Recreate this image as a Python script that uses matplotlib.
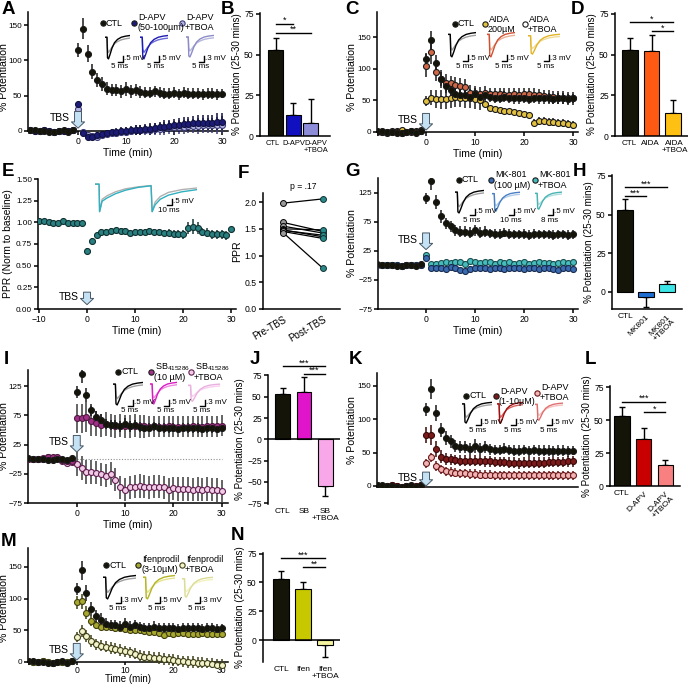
import matplotlib

matplotlib.use("Agg")
import matplotlib.pyplot as plt  # noqa: E402
from matplotlib.lines import Line2D  # noqa: E402

W, H = 688, 684

plt.rcParams["font.family"] = ["Liberation Sans", "DejaVu Sans"]
plt.rcParams["font.size"] = 7
plt.rcParams["axes.linewidth"] = 1.1
for _a in ("xtick", "ytick"):
    plt.rcParams[f"{_a}.major.width"] = 1.1
    plt.rcParams[f"{_a}.major.size"] = 3
    plt.rcParams[f"{_a}.labelsize"] = 6.2
    plt.rcParams[f"{_a}.major.pad"] = 1.5

# ---------------------------------------------------------------- data
BASE_T = list(range(-10, 0))
POST_T = list(range(0, 31))

CTL_BASE = [2, 1, 0, 0, -1, -1, 0, 1, -1, 2]
CTL_POST = [115, 145, 109, 84, 72, 67, 60, 58, 58, 56, 60, 56, 58, 55, 54, 54,
            56, 54, 53, 53, 54, 52, 54, 53, 53, 53, 52, 53, 53, 52, 53]
CTL_ERR = [10, 15, 12, 11, 10, 10, 9, 9, 9, 9, 10, 9, 9, 8, 8, 8,
           8, 8, 8, 8, 8, 8, 8, 8, 8, 8, 8, 8, 8, 8, 7]

# A: D-APV 50-100 uM
ZERO_BASE = [1, 0, 0, 1, 0, -1, 0, 0, 0, 1]
DAPV_POST = [38, -3, -8, -9, -6, -4, -3, -2, -1, 0, 0, 1, 2, 2, 3, 3,
             4, 5, 6, 7, 8, 9, 10, 10, 11, 11, 12, 12, 12, 13, 13]
DAPV_ERR = [3, 3, 4, 4, 4, 4, 4, 5, 5, 5, 6, 6, 7, 7, 7, 8,
            8, 8, 9, 9, 9, 10, 10, 10, 10, 11, 11, 11, 11, 12, 12]
DAPV_TBOA_POST = [31, -2, -5, -7, -8, -5, -4, -3, -3, -2, -1, 0, 1, 1, 2, 2,
                  3, 3, 4, 5, 5, 6, 6, 7, 7, 7, 8, 8, 8, 8, 9]

# C: AIDA
AIDA_BASE = [0, 0, -1, 0, 1, 3, 0, 1, 2, 3]
AIDA_POST = [105, 127, 95, 84, 78, 77, 75, 73, 71, 62, 61, 60, 61, 60, 60, 60,
             59, 59, 60, 59, 60, 60, 59, 58, 57, 56, 55, 54, 54, 53, 53]
AIDA_ERR = [18, 20, 15, 14, 13, 12, 12, 12, 12, 12, 11, 11, 11, 10, 10, 10,
            10, 10, 10, 10, 10, 10, 10, 10, 10, 10, 10, 10, 10, 10, 10]
AIDA_TBOA_POST = [49, 54, 52, 52, 52, 53, 55, 54, 53, 53, 52, 50, 44, 38, 36, 34,
                  33, 33, 32, 30, 29, 27, 15, 17, 17, 16, 16, 15, 14, 13, 11]
AIDA_TBOA_ERR = [8, 12, 14, 15, 15, 15, 15, 15, 15, 15, 15, 15, 3, 2, 2, 2,
                 2, 2, 2, 2, 2, 2, 6, 6, 6, 6, 6, 6, 6, 6, 6]

# E: paired-pulse ratio
PPR_BASE = [1.02, 1.01, 1.00, 0.99, 0.99, 1.01, 0.99, 0.99, 0.99, 0.99]
PPR_POST = [0.67, 0.79, 0.85, 0.89, 0.89, 0.90, 0.91, 0.90, 0.90, 0.88, 0.89,
            0.89, 0.89, 0.90, 0.89, 0.89, 0.88, 0.88, 0.87, 0.87, 0.86, 0.93,
            0.95, 0.93, 0.89, 0.88, 0.86, 0.86, 0.86, 0.85, 0.92]
PPR_ERR = [0.03] * 17 + [0.04, 0.04, 0.04, 0.05, 0.07, 0.09, 0.07,
                         0.05, 0.05, 0.05, 0.05, 0.05, 0.05, 0.02]

# F: PPR pre / post
PPR_PRE = [1.98, 1.62, 1.55, 1.50, 1.48, 1.47, 1.45, 1.43]
PPR_POSTTBS = [2.06, 1.45, 1.42, 1.48, 1.35, 1.38, 1.32, 0.76]

# G: MK-801
MK_POST = [12, -5, -4, -4, -6, -3, -5, -8, -10, -6, -4, -5, -5, -7, -5, -4,
           -6, -5, -5, -4, -6, -5, -4, -6, -4, -5, -6, -8, -5, -4, -6]
MK_TBOA_POST = [17, 2, 3, 4, 5, 4, 6, 5, 3, 7, 6, 4, 5, 6, 3, 5,
                4, 5, 3, 4, 5, 3, 4, 5, 4, 4, 3, 4, 5, 4, 5]
MK_ERR = [4] * 31

# I: SB415286
SB_BASE = [0, 0, 0, 1, 4, 3, 3, -2, -4, -4]
SB_POST = [70, 70, 72, 65, 61, 58, 60, 58, 56, 57, 56, 56, 57, 56, 56, 55,
           56, 55, 55, 56, 55, 55, 55, 55, 56, 55, 55, 56, 56, 56, 57]
SB_ERR = [25, 25, 25, 25, 22, 20, 20, 20, 20, 20, 20, 20, 20, 20, 20, 18,
          18, 18, 18, 18, 18, 18, 18, 18, 18, 18, 18, 18, 18, 18, 18]
SB_TBOA_BASE = [0, 0, 0, 2, 3, 2, 2, -3, -6, -5]
SB_TBOA_POST = [-8, -15, -22, -22, -23, -26, -28, -25, -35, -48, -52, -48, -47,
                -46, -47, -48, -47, -47, -48, -53, -50, -51, -51, -51, -52, -51,
                -52, -51, -52, -53, -55]
SB_TBOA_ERR = [20] * 31

# K: D-APV 1-10 uM
KDAPV_POST = [77, 76, 56, 44, 40, 40, 39, 38, 38, 38, 38, 38, 37, 37, 36, 36,
              36, 35, 35, 34, 35, 35, 35, 35, 35, 36, 36, 36, 36, 37, 37]
KDAPV_ERR = [12, 15, 12, 10, 9, 8, 8, 8, 8, 8, 8, 8, 8, 8, 8, 8,
             8, 8, 8, 8, 8, 8, 8, 8, 8, 8, 8, 8, 8, 8, 8]
KDAPV_TBOA_POST = [34, 43, 30, 25, 22, 21, 20, 19, 19, 18, 18, 17, 17, 17, 16, 16,
                   16, 16, 16, 16, 16, 16, 16, 16, 16, 16, 16, 16, 16, 16, 16]
KDAPV_TBOA_ERR = [7] * 31

# M: ifenprodil
IFEN_POST = [94, 96, 78, 65, 58, 56, 56, 55, 54, 53, 52, 51, 51, 50, 49, 48,
             47, 46, 42, 45, 44, 45, 45, 44, 44, 44, 45, 44, 44, 44, 44]
IFEN_ERR = [10, 12, 10, 8, 6, 6, 6, 6, 6, 6, 6, 6, 6, 6, 6, 6,
            6, 6, 6, 6, 6, 6, 6, 6, 6, 6, 6, 6, 6, 6, 6]
IFEN_TBOA_POST = [40, 49, 41, 33, 28, 26, 24, 22, 21, 19, 17, 15, 13, 10, 8, 8,
                  7, 6, 5, 4, 3, 2, 1, 0, 0, -1, -1, -2, -3, -4, -5]
IFEN_TBOA_ERR = [8, 9, 9, 9, 9, 9, 9, 9, 9, 9, 9, 9, 9, 9, 9, 9,
                 9, 9, 9, 9, 9, 9, 9, 9, 9, 9, 9, 9, 9, 9, 9]

# bar summaries (25-30 min)
B_MEAN, B_ERR = [53, 13, 8], [7, 7, 15]
D_MEAN, D_ERR = [53, 52, 14], [7, 10, 8]
H_MEAN, H_ERR = [53, -3, 5], [7, 7, 2]
J_MEAN, J_ERR = [53, 55, -55], [7, 18, 12]
L_MEAN, L_ERR = [53, 36, 16], [7, 8, 4]
N_MEAN, N_ERR = [53, 44, -4], [7, 6, 11]

# schematic fEPSP traces used in the insets
TRACE_X = [0.0, 0.08, 0.1, 0.14, 0.2, 0.28, 0.38, 0.5, 0.65, 0.82, 1.0]
TRACE_PRE = [0.0, 0.0, -0.55, -0.7, -0.6, -0.45, -0.3, -0.2, -0.12, -0.07, -0.04]
TRACE_POST = [0.0, 0.0, -0.95, -1.0, -0.8, -0.5, -0.25, -0.1, 0.0, 0.05, 0.08]
PAIRED_X = [0.0, 0.04, 0.045, 0.07, 0.12, 0.2, 0.3, 0.42, 0.55, 0.56, 0.59,
            0.64, 0.72, 0.85, 1.0]
PAIRED_PRE = [0.0, 0.0, -1.0, -0.55, -0.42, -0.28, -0.17, -0.1, -0.05, -1.0,
              -0.65, -0.45, -0.3, -0.2, -0.14]
PAIRED_POST = [0.0, 0.0, -1.0, -0.62, -0.5, -0.35, -0.22, -0.12, -0.06, -1.0,
               -0.75, -0.55, -0.4, -0.28, -0.2]

BLACK = "#141408"
EDGE = "#1a1a1a"
LEG_FS = 6.5
SCALE_FS = 5.8
YLAB_FS = 7.6


# ---------------------------------------------------------------- helpers
def rect(x0, y0, x1, y1):
    return [x0 / W, 1 - y1 / H, (x1 - x0) / W, (y1 - y0) / H]


def ftext(fig, x, y, s, **kw):
    fig.text(x / W, 1 - y / H, s, **kw)


def fline(fig, xs, ys, **kw):
    fig.add_artist(Line2D([x / W for x in xs], [1 - y / H for y in ys],
                          transform=fig.transFigure, **kw))


def series(ax, base, post, err, face, edge=EDGE, ecolor=None, base_err=1.5):
    ax.errorbar(BASE_T + POST_T, base + post, yerr=[base_err] * len(base) + err,
                fmt="o", ms=4.3, mfc=face, mec=edge, mew=0.8,
                ecolor=ecolor or edge, elinewidth=1.1, capsize=0, zorder=3)


def time_axes(fig, r, xlim, ylim, yticks, ylabel, xticks=(0, 10, 20, 30),
              zero_spine=False, xlabel=True, label_x=None):
    ax = fig.add_axes(rect(*r))
    ax.set_xlim(xlim)
    ax.set_ylim(ylim)
    ax.spines[["top", "right"]].set_visible(False)
    if zero_spine:
        ax.spines["bottom"].set_position(("data", 0))
        ax.spines["left"].set_bounds(0, ylim[1])
    ax.set_yticks(yticks)
    ax.set_xticks(list(xticks))
    ax.tick_params(axis="y", labelsize=5.9, pad=1.2)
    if xlabel:
        ax.set_xlabel("Time (min)", fontsize=7.5, labelpad=1)
    ax.set_ylabel(ylabel, fontsize=YLAB_FS, labelpad=1.5)
    if label_x is not None:
        # label_x is the pixel position of the label's right edge
        ax.yaxis.set_label_coords((label_x - r[0]) / (r[2] - r[0]), 0.5)
    return ax


def tbs(ax, y_tip, length=12):
    ax.annotate("", xy=(0, y_tip), xytext=(0, length), textcoords="offset points",
                arrowprops=dict(arrowstyle="simple,head_length=0.45,head_width=0.95,"
                                           "tail_width=0.5",
                                fc="#c4e2f4", ec="#4a5866", lw=0.7,
                                mutation_scale=10, shrinkA=0, shrinkB=0),
                zorder=5)
    ax.annotate("TBS", xy=(0, y_tip), xytext=(-6, length * 0.6),
                textcoords="offset points", ha="right", va="center", fontsize=7.5)


def legend_item(fig, x, y, face, lines, edge=EDGE):
    fig.add_artist(Line2D([x / W], [1 - y / H], marker="o", ms=3.8, mfc=face,
                          mec=edge, mew=0.8, transform=fig.transFigure))
    if len(lines) == 1:
        ftext(fig, x + 3, y, lines[0], va="center", fontsize=LEG_FS)
    else:
        ftext(fig, x + 4, y - 5, lines[0], va="center", fontsize=LEG_FS)
        ftext(fig, x + 3, y + 5, lines[1], va="center", fontsize=LEG_FS)


def trace(fig, r, pre_color, post_color, xs=TRACE_X, pre=TRACE_PRE, post=TRACE_POST):
    ax = fig.add_axes(rect(*r))
    ax.plot(xs, pre, color=pre_color, lw=1.0)
    ax.plot(xs, post, color=post_color, lw=1.0)
    ax.set_xlim(0, 1)
    ax.set_ylim(-1.05, 0.15)
    ax.axis("off")


def scalebar(fig, x, y, vlab, hlab="5 ms"):
    fline(fig, [x - 5, x, x], [y, y, y - 6], color="black", lw=1.0)
    ftext(fig, x + 1, y - 3, vlab, va="center", fontsize=SCALE_FS)
    ftext(fig, x - 3, y + 5, hlab, ha="center", va="center", fontsize=SCALE_FS)


def bar_panel(fig, r, xlim, ylim, yticks, labels, means, errs, colors, width,
              sigs, rotate=False, zero_line=False, label_fs=6.0, label_pos=None):
    ax = fig.add_axes(rect(*r))
    xs = list(range(len(means)))
    ax.bar(xs, means, width=width, color=colors, edgecolor="black", lw=0.8, zorder=2)
    for xi, m, e in zip(xs, means, errs):
        yerr = [[0], [e]] if m >= 0 else [[e], [0]]
        ax.errorbar([xi], [m], yerr=yerr, fmt="none", ecolor="black",
                    elinewidth=1.0, capsize=2.5, capthick=1.0, zorder=1)
    ax.set_xlim(xlim)
    ax.set_ylim(ylim)
    ax.set_yticks(yticks)
    ax.spines[["top", "right"]].set_visible(False)
    if zero_line:
        ax.spines["bottom"].set_visible(False)
        ax.axhline(0, color="black", lw=1.1)
    ax.set_xticks(label_pos if label_pos is not None else xs)
    ax.set_xticklabels(labels, fontsize=label_fs, linespacing=1.0)
    ax.tick_params(axis="x", length=0, pad=3)
    if rotate:
        for lbl in ax.get_xticklabels()[1:]:
            lbl.set_rotation(45)
            lbl.set_ha("right")
            lbl.set_va("top")
            lbl.set_rotation_mode("anchor")
    ax.set_ylabel("% Potentiation (25-30 mins)", fontsize=7.1, labelpad=1.5)
    for x0, x1, y, s in sigs:
        ax.plot([x0, x1], [y, y], color="black", lw=1.0, clip_on=False)
        ax.text((x0 + x1) / 2, y - 1, s, ha="center", va="bottom", fontsize=6.5,
                clip_on=False)
    return ax


# ---------------------------------------------------------------- figure
fig = plt.figure(figsize=(W / 100, H / 100), dpi=100)

# A
ax = time_axes(fig, (28, 12, 228, 142), (-10.42, 31.25), (-15.6, 168.4),
               [0, 50, 100, 150], "% Potentiation", zero_spine=True, label_x=9)
series(ax, ZERO_BASE, DAPV_TBOA_POST, DAPV_ERR, "#b4b4e2", "#3c3c78")
series(ax, ZERO_BASE, DAPV_POST, DAPV_ERR, "#1c1c78", "#101040")
series(ax, CTL_BASE, CTL_POST, CTL_ERR, BLACK)
tbs(ax, 4)
legend_item(fig, 103, 23, BLACK, ["CTL"])
legend_item(fig, 134, 23, "#1c1c78", ["D-APV", "(50-100µm)"])
legend_item(fig, 182, 23, "#b4b4e2", ["D-APV", "+TBOA"], edge="#3c3c78")
trace(fig, (105, 34, 130, 60), "#a0a0a0", "black")
trace(fig, (140, 34, 168, 60), "#6a6ad8", "#1c1cb4")
trace(fig, (186, 34, 214, 58), "#b8b8dc", "#8c8cc8")
scalebar(fig, 123, 62, ".5 mV")
scalebar(fig, 159, 62, ".5 mV")
scalebar(fig, 204, 62, ".3 mV")

# B
bar_panel(fig, (260, 13, 330, 136), (-0.91, 3.09), (0, 75.5), [0, 25, 50, 75],
          ["CTL", "D-APV", "D-APV\n+TBOA"], B_MEAN, B_ERR,
          [BLACK, "#1010c0", "#8c8cd8"], 0.86,
          [(0, 1, 69, "*"), (0, 2, 63.5, "**")], label_fs=5.4,
          label_pos=[-0.2, 1.0, 2.3])

# C
ax = time_axes(fig, (377, 12, 578, 142), (-10, 31), (-15.8, 189.6),
               [0, 50, 100, 150], "% Potentiation", zero_spine=True, label_x=357)
series(ax, AIDA_BASE, AIDA_TBOA_POST, AIDA_TBOA_ERR, "#e2c040")
series(ax, ZERO_BASE, AIDA_POST, AIDA_ERR, "#d06848")
series(ax, CTL_BASE, CTL_POST, CTL_ERR, BLACK)
tbs(ax, 3)
legend_item(fig, 455, 24, BLACK, ["CTL"])
legend_item(fig, 485, 24, "#e2c040", ["AIDA", "200µM"])
legend_item(fig, 525, 24, "white", ["AIDA", "+TBOA"])
trace(fig, (448, 31, 476, 58), "#a0a0a0", "black")
trace(fig, (487, 31, 515, 58), "#eab098", "#d05030")
trace(fig, (528, 33, 560, 55), "#f0dc98", "#e2b428")
scalebar(fig, 468, 61, ".5 mV")
scalebar(fig, 507, 61, ".5 mV")
scalebar(fig, 549, 61, ".3 mV")

# D
bar_panel(fig, (615, 13, 688, 136), (-0.71, 2.71), (0, 75.5), [0, 25, 50, 75],
          ["CTL", "AIDA", "AIDA\n+TBOA"], D_MEAN, D_ERR,
          [BLACK, "#ff5a14", "#ffc014"], 0.72,
          [(0, 2, 70, "*"), (1, 2, 64.5, "*")], label_fs=5.8,
          label_pos=[-0.05, 0.95, 2.08])

# E
ax = time_axes(fig, (38, 179, 236, 309), (-10.2, 31), (0, 1.5),
               [0, 0.25, 0.5, 0.75, 1.0, 1.25, 1.5], "PPR (Norm to baseline)",
               xticks=(-10, 0, 10, 20, 30), label_x=13)
ax.set_yticklabels(["0.00", "0.25", "0.50", "0.75", "1.00", "1.25", "1.50"])
ax.yaxis.label.set_fontsize(7.4)
ax.errorbar(BASE_T + POST_T, PPR_BASE + PPR_POST,
            yerr=[0.01] * len(PPR_BASE) + PPR_ERR, fmt="o", ms=4.3,
            mfc="#2a8080", mec="#103030", mew=0.8, ecolor="#1a3a3a",
            elinewidth=1.1, capsize=0, zorder=3)
tbs(ax, 0.05, length=9)
trace(fig, (95, 180, 197, 213), "#b0b0b0", "#30b0c0",
      PAIRED_X, PAIRED_PRE, PAIRED_POST)
scalebar(fig, 172, 205, ".5 mV", "10 ms")

# F
ax = fig.add_axes(rect(263, 193, 340, 309))
for a, b in zip(PPR_PRE, PPR_POSTTBS):
    ax.plot([0, 1], [a, b], color="black", lw=0.9, zorder=2)
ax.scatter([0] * len(PPR_PRE), PPR_PRE, s=18, c="#9a9a9a", edgecolors="black",
           linewidths=0.7, zorder=3)
ax.scatter([1] * len(PPR_POSTTBS), PPR_POSTTBS, s=18, c="#2a8a8a",
           edgecolors="#103030", linewidths=0.7, zorder=3)
ax.set_xlim(-0.5, 1.425)
ax.set_ylim(0, 2.17)
ax.set_yticks([0, 0.5, 1.0, 1.5, 2.0])
ax.set_yticklabels(["0.0", "0.5", "1.0", "1.5", "2.0"])
ax.set_xticks([0, 1])
ax.set_xticklabels(["Pre-TBS", "Post-TBS"], rotation=30, ha="right",
                   rotation_mode="anchor", fontsize=7)
ax.tick_params(axis="x", length=0, pad=4)
ax.spines[["top", "right"]].set_visible(False)
ax.set_ylabel("PPR", fontsize=YLAB_FS, labelpad=1.5)
ax.text(0.5, 2.2, "p = .17", ha="center", va="bottom", fontsize=6.2)

# G
ax = time_axes(fig, (378, 178, 578, 309), (-9.8, 31), (-75, 150),
               [-75, -25, 25, 75, 125], "% Potentiation", label_x=357)
series(ax, ZERO_BASE, MK_TBOA_POST, MK_ERR, "#46bcbc", "#1c5050")
series(ax, ZERO_BASE, MK_POST, MK_ERR, "#3a6ab0", "#182c50")
series(ax, CTL_BASE, CTL_POST, CTL_ERR, BLACK)
tbs(ax, 27)
legend_item(fig, 459, 180, BLACK, ["CTL"])
legend_item(fig, 491, 180, "#3a6ab0", ["MK-801", "(100 µM)"])
legend_item(fig, 535, 180, "#46bcbc", ["MK-801", "+TBOA"])
trace(fig, (455, 189, 484, 214), "#a0a0a0", "black")
trace(fig, (492, 191, 520, 212), "#b4cce8", "#4a80c4")
trace(fig, (535, 191, 562, 210), "#b0dede", "#48b4b4")
scalebar(fig, 475, 215, ".5 mV")
scalebar(fig, 514, 215, ".5 mV", "10 ms")
scalebar(fig, 553, 215, ".5 mV", "8 ms")

# H
bar_panel(fig, (612, 175, 682, 309), (-0.62, 2.71), (-11, 75.6), [0, 25, 50, 75],
          ["CTL", "MK801", "MK801\n+TBOA"], H_MEAN, H_ERR,
          [BLACK, "#1e6ed2", "#3ce6e6"], 0.8,
          [(0, 2, 68, "***"), (0, 1, 62, "***")], rotate=True)

# I
ax = time_axes(fig, (28, 370, 228, 503), (-10.1, 31.3), (-75, 152.4),
               [-75, -25, 25, 75, 125], "% Potentiation", label_x=9)
ax.plot([0, 30], [0, 0], color="#909090", lw=0.8, ls=(0, (1, 1.5)), zorder=1)
series(ax, SB_TBOA_BASE, SB_TBOA_POST, SB_TBOA_ERR, "#f2cce6", "#602050",
       ecolor="#3a3a3a")
series(ax, SB_BASE, SB_POST, SB_ERR, "#a03088", "#501840", ecolor="#3a3a3a")
series(ax, CTL_BASE, CTL_POST, CTL_ERR, BLACK)
tbs(ax, 12)
legend_item(fig, 118, 372, BLACK, ["CTL"])
legend_item(fig, 151, 372, "#a03088", ["SB$_{\\mathregular{415286}}$", "(10 µM)"])
legend_item(fig, 191, 372, "#f2cce6", ["SB$_{\\mathregular{415286}}$", "+TBOA"],
            edge="#602050")
trace(fig, (113, 381, 143, 406), "#a0a0a0", "black")
trace(fig, (150, 381, 177, 405), "#ee88e0", "#d81cc4")
trace(fig, (188, 383, 220, 402), "#f8d0f0", "#eab0e0")
scalebar(fig, 133, 406, ".5 mV")
scalebar(fig, 169, 406, ".5 mV")
scalebar(fig, 205, 406, ".3 mV")

# J
bar_panel(fig, (268, 375, 340, 504), (-0.71, 2.71), (-76, 75.5),
          [-75, -50, -25, 0, 25, 50, 75], ["CTL", "SB", "SB\n+TBOA"],
          J_MEAN, J_ERR, [BLACK, "#e014c8", "#f8a8e8"], 0.71,
          [(0, 2, 85.5, "***"), (1, 2, 76.5, "***")], zero_line=True)

# K
ax = time_axes(fig, (377, 373, 578, 487), (-10, 31), (-1.5, 169.4),
               [0, 50, 100, 150], "% Potentiation", xticks=(), xlabel=False,
               label_x=357)
series(ax, ZERO_BASE, KDAPV_TBOA_POST, KDAPV_TBOA_ERR, "#f2b4b4", "#6a1818")
series(ax, ZERO_BASE, KDAPV_POST, KDAPV_ERR, "#7a1a1a", "#3a0808")
series(ax, CTL_BASE, CTL_POST, CTL_ERR, BLACK)
tbs(ax, 0, length=10)
legend_item(fig, 466, 396, BLACK, ["CTL"])
legend_item(fig, 496, 396, "#7a1a1a", ["D-APV", "(1-10µM)"])
legend_item(fig, 537, 393, "#f2b4b4", ["D-APV", "+TBOA"], edge="#6a1818")
trace(fig, (462, 401, 492, 424), "#a0a0a0", "black")
trace(fig, (497, 401, 523, 424), "#d86060", "#a01010")
trace(fig, (535, 402, 563, 421), "#f8c0c0", "#e07070")
scalebar(fig, 481, 425, ".5 mV")
scalebar(fig, 516, 425, ".5 mV")
scalebar(fig, 552, 425, ".5 mV")

# L
bar_panel(fig, (610, 386, 680, 486), (-0.55, 2.67), (0, 75.8), [0, 25, 50, 75],
          ["CTL", "D-APV", "D-APV\n+TBOA"], L_MEAN, L_ERR,
          [BLACK, "#c80000", "#f88080"], 0.7,
          [(0, 2, 64, "***"), (1, 2, 56, "*")], rotate=True)

# M
ax = time_axes(fig, (28, 548, 228, 668), (-10.1, 31.3), (-9.5, 180),
               [0, 50, 100, 150], "% Potentiation", zero_spine=True, label_x=9)
ax.tick_params(axis="x", length=2, pad=1)
ax.xaxis.label.set_fontsize(7)
ax.xaxis.set_label_coords(0.5, -0.05)
series(ax, ZERO_BASE, IFEN_TBOA_POST, IFEN_TBOA_ERR, "#f4f4cc", "#404018")
series(ax, ZERO_BASE, IFEN_POST, IFEN_ERR, "#a8a830", "#404010")
series(ax, CTL_BASE, CTL_POST, CTL_ERR, BLACK)
tbs(ax, 3)
legend_item(fig, 106, 565, BLACK, ["CTL"])
legend_item(fig, 138, 565, "#a8a830", ["Ifenprodil", "(3-10µM)"])
legend_item(fig, 182, 565, "#f4f4cc", ["Ifenprodil", "+TBOA"], edge="#404018")
trace(fig, (103, 574, 136, 600), "#a0a0a0", "black")
trace(fig, (143, 574, 175, 600), "#e4e490", "#b4b424")
trace(fig, (182, 576, 213, 598), "#f2f2c0", "#dcdc98")
scalebar(fig, 121, 603, ".3 mV")
scalebar(fig, 160, 603, ".5 mV")
scalebar(fig, 200, 603, ".3 mV")

# N
bar_panel(fig, (263, 553, 340, 662), (-0.82, 2.68), (-19, 75.5), [0, 25, 50, 75],
          ["CTL", "Ifen", "Ifen\n+TBOA"], N_MEAN, N_ERR,
          [BLACK, "#c8c800", "#f4f4a0"], 0.73,
          [(0, 2, 71, "***"), (1, 2, 63, "**")], zero_line=True)

# panel letters
for letter, x, y in [("A", 8, 9), ("B", 228, 9), ("C", 352, 9), ("D", 578, 10),
                     ("E", 8, 172), ("F", 243, 173), ("G", 353, 172), ("H", 579, 172),
                     ("I", 6, 360), ("J", 255, 360), ("K", 355, 360), ("L", 590, 360),
                     ("M", 9, 542), ("N", 237, 536)]:
    ftext(fig, x, y, letter, fontsize=13.5, fontweight="bold", ha="center",
          va="center")

fig.savefig("out.png", dpi=100)
